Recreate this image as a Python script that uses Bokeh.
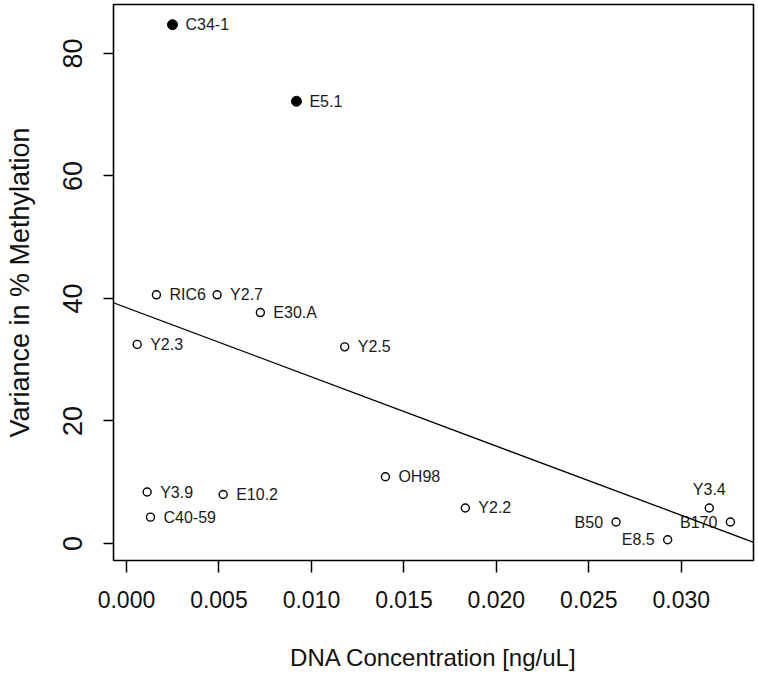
from bokeh.plotting import figure
from bokeh.models import Range1d, Slope, ColumnDataSource, FixedTicker
from bokeh.embed import file_html
from bokeh.resources import INLINE
from bokeh.core.properties import value

# ---- data ----
names = ["C34-1", "E5.1", "RIC6", "Y2.7", "E30.A", "Y2.3", "Y2.5", "Y3.9",
         "E10.2", "C40-59", "OH98", "Y2.2", "B50", "E8.5", "Y3.4", "B170"]
conc = [0.00249, 0.00919, 0.00162, 0.00490, 0.00724, 0.00058, 0.01180, 0.00112,
        0.00523, 0.00130, 0.01400, 0.01832, 0.02647, 0.02926, 0.03151, 0.03265]
variance = [84.7, 72.2, 40.6, 40.6, 37.7, 32.5, 32.1, 8.4,
            8.0, 4.3, 10.9, 5.8, 3.5, 0.6, 5.8, 3.5]
filled = [True, True, False, False, False, False, False, False,
          False, False, False, False, False, False, False, False]
label_side = ["right", "right", "right", "right", "right", "right", "right", "right",
              "right", "right", "right", "right", "left", "left", "above", "left"]

fit_intercept = 38.5
fit_slope = -1130.0

x_ticks = [0.000, 0.005, 0.010, 0.015, 0.020, 0.025, 0.030]
x_tick_labels = ["0.000", "0.005", "0.010", "0.015", "0.020", "0.025", "0.030"]
y_ticks = [0, 20, 40, 60, 80]
y_tick_labels = ["0", "20", "40", "60", "80"]

x_title = "DNA Concentration [ng/uL]"
y_title = "Variance in % Methylation"

FONT = "Liberation Sans"

# ---- figure ----
p = figure(width=758, height=677, output_backend="svg", toolbar_location=None,
           x_range=Range1d(-0.0007, 0.0339), y_range=Range1d(-2.78, 88.0),
           min_border_left=113, min_border_right=5, min_border_top=4,
           min_border_bottom=117)
p.grid.visible = False
p.background_fill_color = "white"
p.border_fill_color = "white"
p.outline_line_color = "black"
p.outline_line_width = 1.6

ax = p.xaxis[0]
ax.ticker = FixedTicker(ticks=x_ticks)
ax.major_label_overrides = {t: l for t, l in zip(x_ticks, x_tick_labels)}
ax.minor_tick_line_color = None
ax.axis_line_color = None
ax.major_tick_out = 12
ax.major_tick_in = 0
ax.major_tick_line_width = 1.5
ax.major_label_standoff = 18
ax.major_label_text_font = FONT
ax.major_label_text_font_size = "23px"
ax.major_label_text_color = "#111111"
ax.axis_label = x_title
ax.axis_label_text_font = FONT
ax.axis_label_text_font_size = "24px"
ax.axis_label_text_font_style = "normal"
ax.axis_label_text_color = "#111111"
ax.axis_label_standoff = 33

ay = p.yaxis[0]
ay.ticker = FixedTicker(ticks=y_ticks)
ay.major_label_overrides = {t: l for t, l in zip(y_ticks, y_tick_labels)}
ay.minor_tick_line_color = None
ay.axis_line_color = None
ay.major_tick_out = 10
ay.major_tick_in = 0
ay.major_tick_line_width = 1.5
ay.major_label_orientation = "vertical"
ay.major_label_standoff = 21
ay.major_label_text_font = FONT
ay.major_label_text_font_size = "27px"
ay.major_label_text_color = "#111111"
ay.axis_label = y_title
ay.axis_label_text_font = FONT
ay.axis_label_text_font_size = "27px"
ay.axis_label_text_font_style = "normal"
ay.axis_label_text_color = "#111111"
ay.axis_label_standoff = 26

# regression line
p.add_layout(Slope(gradient=fit_slope, y_intercept=fit_intercept,
                   line_color="black", line_width=1.3))

# points
fx = [x for x, f in zip(conc, filled) if f]
fy = [y for y, f in zip(variance, filled) if f]
ox = [x for x, f in zip(conc, filled) if not f]
oy = [y for y, f in zip(variance, filled) if not f]
p.scatter(fx, fy, marker="circle", size=10, fill_color="black", line_color="black")
p.scatter(ox, oy, marker="circle", size=8, fill_color="white", line_color="black",
          line_width=1.4)

# labels
def sub(side):
    idx = [i for i, s in enumerate(label_side) if s == side]
    return ColumnDataSource(dict(x=[conc[i] for i in idx],
                                 y=[variance[i] for i in idx],
                                 t=[names[i] for i in idx]))

common = dict(text="t", text_font=value(FONT), text_font_size="16px",
              text_color="#1a1a1a")
p.text(x="x", y="y", source=sub("right"), text_align="left", text_baseline="middle",
       x_offset=13, **common)
p.text(x="x", y="y", source=sub("left"), text_align="right", text_baseline="middle",
       x_offset=-13, **common)
p.text(x="x", y="y", source=sub("above"), text_align="center", text_baseline="bottom",
       y_offset=-10, **common)

open("out.html", "w").write(file_html(p, INLINE))
